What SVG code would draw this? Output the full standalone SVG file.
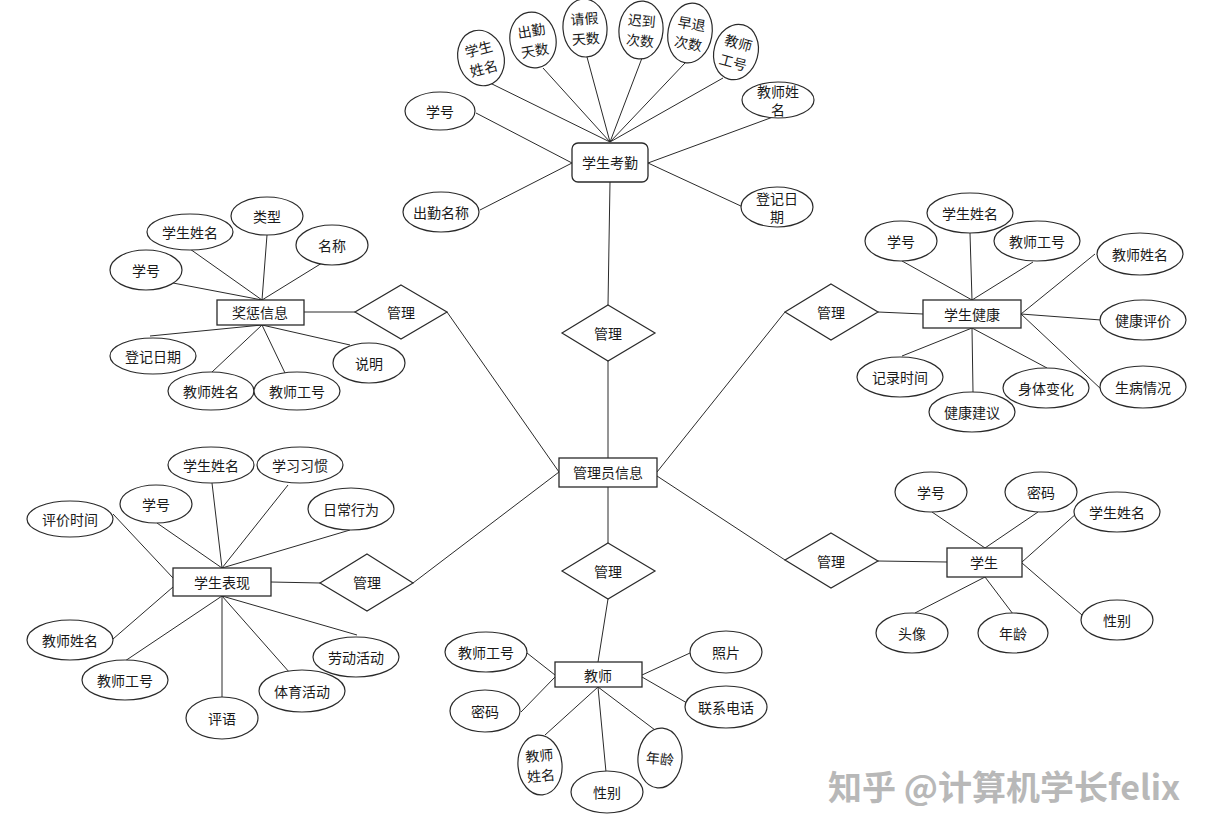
<svg xmlns="http://www.w3.org/2000/svg" width="1224" height="834" viewBox="0 0 1224 834">
<style>
.c line{stroke:#2a2a2a;stroke-width:1}
.e{fill:#fff;stroke:#2a2a2a;stroke-width:1.2}
.r{fill:#fff;stroke:#2a2a2a;stroke-width:1.3}
.d{fill:#fff;stroke:#2a2a2a;stroke-width:1.2}
text{font-family:"Noto Sans CJK SC","Noto Sans",sans-serif;font-size:14px;fill:#1a1a1a;text-anchor:middle;dominant-baseline:central}
.wm{font-size:34px;fill:#b8b8b8;text-anchor:start;dominant-baseline:alphabetic;font-weight:bold}
</style>
<rect width="1224" height="834" fill="#fff"/>
<g class="c" id="connectors">
<line x1="490" y1="83" x2="610" y2="142"/>
<line x1="543" y1="68" x2="610" y2="142"/>
<line x1="587" y1="57" x2="610" y2="142"/>
<line x1="642" y1="58" x2="610" y2="142"/>
<line x1="685" y1="63" x2="610" y2="142"/>
<line x1="723" y1="78" x2="610" y2="142"/>
<line x1="476" y1="113" x2="572" y2="163"/>
<line x1="480" y1="210" x2="572" y2="163"/>
<line x1="773" y1="117" x2="648" y2="163"/>
<line x1="743" y1="207" x2="648" y2="163"/>
<line x1="610" y1="182" x2="608" y2="305"/>
<line x1="608" y1="361" x2="608" y2="458"/>
<line x1="608" y1="487" x2="608" y2="543"/>
<line x1="608" y1="599" x2="598" y2="662"/>
<line x1="173" y1="283" x2="262" y2="300"/>
<line x1="190" y1="249" x2="262" y2="300"/>
<line x1="267" y1="235" x2="262" y2="300"/>
<line x1="322" y1="263" x2="262" y2="300"/>
<line x1="150" y1="336" x2="262" y2="325"/>
<line x1="212" y1="372" x2="262" y2="325"/>
<line x1="285" y1="373" x2="262" y2="325"/>
<line x1="350" y1="345" x2="262" y2="325"/>
<line x1="304" y1="312" x2="355" y2="312"/>
<line x1="447" y1="312" x2="559" y2="472"/>
<line x1="785" y1="312" x2="657" y2="472"/>
<line x1="878" y1="312" x2="923" y2="314"/>
<line x1="902" y1="261" x2="972" y2="300"/>
<line x1="970" y1="233" x2="972" y2="300"/>
<line x1="1033" y1="262" x2="972" y2="300"/>
<line x1="1095" y1="254" x2="1021" y2="314"/>
<line x1="1101" y1="320" x2="1021" y2="314"/>
<line x1="1102" y1="390" x2="1021" y2="314"/>
<line x1="902" y1="356" x2="972" y2="328"/>
<line x1="973" y1="392" x2="972" y2="328"/>
<line x1="1047" y1="368" x2="972" y2="328"/>
<line x1="413" y1="583" x2="559" y2="472"/>
<line x1="271" y1="582" x2="320" y2="583"/>
<line x1="157" y1="523" x2="222" y2="568"/>
<line x1="212" y1="483" x2="222" y2="568"/>
<line x1="288" y1="485" x2="222" y2="568"/>
<line x1="350" y1="530" x2="222" y2="568"/>
<line x1="113" y1="514" x2="173" y2="578"/>
<line x1="113" y1="639" x2="173" y2="587"/>
<line x1="125" y1="661" x2="222" y2="596"/>
<line x1="222" y1="698" x2="222" y2="596"/>
<line x1="290" y1="673" x2="222" y2="596"/>
<line x1="357" y1="635" x2="222" y2="596"/>
<line x1="657" y1="476" x2="785" y2="560"/>
<line x1="878" y1="561" x2="947" y2="562"/>
<line x1="932" y1="512" x2="985" y2="548"/>
<line x1="1038" y1="512" x2="985" y2="548"/>
<line x1="1077" y1="513" x2="1022" y2="562"/>
<line x1="1082" y1="615" x2="1022" y2="563"/>
<line x1="915" y1="613" x2="985" y2="577"/>
<line x1="1013" y1="614" x2="985" y2="577"/>
<line x1="527" y1="653" x2="555" y2="675"/>
<line x1="521" y1="712" x2="555" y2="677"/>
<line x1="545" y1="735" x2="598" y2="687"/>
<line x1="606" y1="772" x2="598" y2="687"/>
<line x1="655" y1="730" x2="598" y2="687"/>
<line x1="690" y1="653" x2="642" y2="675"/>
<line x1="687" y1="703" x2="642" y2="677"/>
</g>

<!-- 学生考勤 -->
<g id="attendance"><rect class="r" x="572" y="143" width="76" height="39" rx="6"/><text x="610" y="162">学生考勤</text></g>
<g id="att-sname" transform="rotate(-15 481 58)"><ellipse class="e" cx="481" cy="58" rx="23" ry="28"/><text x="481" y="48">学生</text><text x="481" y="68">姓名</text></g>
<g id="att-days" transform="rotate(-10 533 40)"><ellipse class="e" cx="533" cy="40" rx="23" ry="28"/><text x="533" y="30">出勤</text><text x="533" y="50">天数</text></g>
<g id="att-leave" transform="rotate(-4 585 28)"><ellipse class="e" cx="585" cy="28" rx="22" ry="29"/><text x="585" y="18">请假</text><text x="585" y="38">天数</text></g>
<g id="att-late" transform="rotate(5 641 30)"><ellipse class="e" cx="641" cy="30" rx="22" ry="29"/><text x="641" y="20">迟到</text><text x="641" y="40">次数</text></g>
<g id="att-early" transform="rotate(10 690 33)"><ellipse class="e" cx="690" cy="33" rx="22" ry="30"/><text x="690" y="23">早退</text><text x="690" y="43">次数</text></g>
<g id="att-tid" transform="rotate(15 736 52)"><ellipse class="e" cx="736" cy="52" rx="22" ry="28"/><text x="736" y="42">教师</text><text x="736" y="62">工号</text></g>
<g id="att-tname"><ellipse class="e" cx="778" cy="100" rx="36" ry="18"/><text x="778" y="91">教师姓</text><text x="778" y="109">名</text></g>
<g id="att-sid"><ellipse class="e" cx="440" cy="111" rx="35" ry="19"/><text x="440" y="111">学号</text></g>
<g id="att-name"><ellipse class="e" cx="441" cy="212" rx="38" ry="20"/><text x="441" y="212">出勤名称</text></g>
<g id="att-date"><ellipse class="e" cx="777" cy="207" rx="36" ry="20"/><text x="777" y="198">登记日</text><text x="777" y="216">期</text></g>
<g id="rel-top"><polygon class="d" points="608,305 655,333 608,361 562,333"/><text x="608" y="333">管理</text></g>

<!-- 管理员信息 -->
<g id="admin"><rect class="r" x="559" y="458" width="98" height="29"/><text x="608" y="472">管理员信息</text></g>

<!-- 奖惩信息 -->
<g id="reward"><rect class="r" x="217" y="300" width="87" height="25"/><text x="260" y="312">奖惩信息</text></g>
<g id="rw-sid"><ellipse class="e" cx="146" cy="270" rx="36" ry="20"/><text x="146" y="270">学号</text></g>
<g id="rw-sname"><ellipse class="e" cx="190" cy="232" rx="43" ry="18"/><text x="190" y="232">学生姓名</text></g>
<g id="rw-type"><ellipse class="e" cx="267" cy="216" rx="36" ry="19"/><text x="267" y="216">类型</text></g>
<g id="rw-name"><ellipse class="e" cx="332" cy="245" rx="36" ry="20"/><text x="332" y="245">名称</text></g>
<g id="rw-date"><ellipse class="e" cx="153" cy="356" rx="43" ry="18"/><text x="153" y="356">登记日期</text></g>
<g id="rw-tname"><ellipse class="e" cx="211" cy="391" rx="43" ry="19"/><text x="211" y="391">教师姓名</text></g>
<g id="rw-tid"><ellipse class="e" cx="297" cy="391" rx="43" ry="19"/><text x="297" y="391">教师工号</text></g>
<g id="rw-desc"><ellipse class="e" cx="369" cy="363" rx="36" ry="20"/><text x="369" y="363">说明</text></g>
<g id="rel-reward"><polygon class="d" points="401,285 447,312 401,339 355,312"/><text x="401" y="312">管理</text></g>

<!-- 学生健康 -->
<g id="health"><rect class="r" x="923" y="300" width="98" height="28"/><text x="972" y="314">学生健康</text></g>
<g id="hl-sid"><ellipse class="e" cx="901" cy="241" rx="36" ry="20"/><text x="901" y="241">学号</text></g>
<g id="hl-sname"><ellipse class="e" cx="970" cy="213" rx="43" ry="20"/><text x="970" y="213">学生姓名</text></g>
<g id="hl-tid"><ellipse class="e" cx="1037" cy="241" rx="43" ry="20"/><text x="1037" y="241">教师工号</text></g>
<g id="hl-tname"><ellipse class="e" cx="1140" cy="254" rx="43" ry="21"/><text x="1140" y="254">教师姓名</text></g>
<g id="hl-eval"><ellipse class="e" cx="1143" cy="320" rx="43" ry="20"/><text x="1143" y="320">健康评价</text></g>
<g id="hl-sick"><ellipse class="e" cx="1143" cy="387" rx="43" ry="21"/><text x="1143" y="387">生病情况</text></g>
<g id="hl-time"><ellipse class="e" cx="900" cy="377" rx="43" ry="20"/><text x="900" y="377">记录时间</text></g>
<g id="hl-advice"><ellipse class="e" cx="972" cy="412" rx="43" ry="20"/><text x="972" y="412">健康建议</text></g>
<g id="hl-change"><ellipse class="e" cx="1046" cy="388" rx="43" ry="20"/><text x="1046" y="388">身体变化</text></g>
<g id="rel-health"><polygon class="d" points="831,284 878,312 831,340 785,312"/><text x="831" y="312">管理</text></g>

<!-- 学生表现 -->
<g id="perf"><rect class="r" x="173" y="568" width="98" height="28"/><text x="222" y="582">学生表现</text></g>
<g id="pf-sname"><ellipse class="e" cx="211" cy="465" rx="43" ry="18"/><text x="211" y="465">学生姓名</text></g>
<g id="pf-habit"><ellipse class="e" cx="300" cy="465" rx="43" ry="18"/><text x="300" y="465">学习习惯</text></g>
<g id="pf-sid"><ellipse class="e" cx="156" cy="504" rx="36" ry="19"/><text x="156" y="504">学号</text></g>
<g id="pf-daily"><ellipse class="e" cx="351" cy="509" rx="43" ry="21"/><text x="351" y="509">日常行为</text></g>
<g id="pf-time"><ellipse class="e" cx="70" cy="519" rx="43" ry="18"/><text x="70" y="519">评价时间</text></g>
<g id="pf-tname"><ellipse class="e" cx="70" cy="640" rx="43" ry="20"/><text x="70" y="640">教师姓名</text></g>
<g id="pf-tid"><ellipse class="e" cx="125" cy="680" rx="43" ry="20"/><text x="125" y="680">教师工号</text></g>
<g id="pf-comment"><ellipse class="e" cx="222" cy="718" rx="36" ry="21"/><text x="222" y="718">评语</text></g>
<g id="pf-sport"><ellipse class="e" cx="302" cy="691" rx="43" ry="21"/><text x="302" y="691">体育活动</text></g>
<g id="pf-labor"><ellipse class="e" cx="356" cy="657" rx="43" ry="20"/><text x="356" y="657">劳动活动</text></g>
<g id="rel-perf"><polygon class="d" points="367,554 413,583 367,611 320,583"/><text x="367" y="582">管理</text></g>

<!-- 学生 -->
<g id="student"><rect class="r" x="947" y="548" width="75" height="29"/><text x="984" y="562">学生</text></g>
<g id="st-sid"><ellipse class="e" cx="931" cy="492" rx="36" ry="20"/><text x="931" y="492">学号</text></g>
<g id="st-pwd"><ellipse class="e" cx="1041" cy="492" rx="36" ry="20"/><text x="1041" y="492">密码</text></g>
<g id="st-name"><ellipse class="e" cx="1117" cy="512" rx="43" ry="20"/><text x="1117" y="512">学生姓名</text></g>
<g id="st-avatar"><ellipse class="e" cx="912" cy="633" rx="36" ry="20"/><text x="912" y="633">头像</text></g>
<g id="st-age"><ellipse class="e" cx="1013" cy="633" rx="35" ry="20"/><text x="1013" y="633">年龄</text></g>
<g id="st-sex"><ellipse class="e" cx="1117" cy="620" rx="36" ry="20"/><text x="1117" y="620">性别</text></g>
<g id="rel-student"><polygon class="d" points="831,533 878,561 831,588 785,560"/><text x="831" y="561">管理</text></g>

<!-- 教师 -->
<g id="teacher"><rect class="r" x="555" y="662" width="87" height="25"/><text x="598" y="675">教师</text></g>
<g id="tc-id"><ellipse class="e" cx="486" cy="652" rx="41" ry="20"/><text x="486" y="652">教师工号</text></g>
<g id="tc-pwd"><ellipse class="e" cx="485" cy="711" rx="35" ry="21"/><text x="485" y="711">密码</text></g>
<g id="tc-name" transform="rotate(-5 540 765)"><ellipse class="e" cx="540" cy="765" rx="22" ry="30"/><text x="540" y="755">教师</text><text x="540" y="775">姓名</text></g>
<g id="tc-sex"><ellipse class="e" cx="607" cy="792" rx="36" ry="21"/><text x="607" y="792">性别</text></g>
<g id="tc-age" transform="rotate(5 660 758)"><ellipse class="e" cx="660" cy="758" rx="22" ry="30"/><text x="660" y="758">年龄</text></g>
<g id="tc-photo"><ellipse class="e" cx="726" cy="652" rx="36" ry="21"/><text x="726" y="652">照片</text></g>
<g id="tc-phone"><ellipse class="e" cx="726" cy="707" rx="41" ry="21"/><text x="726" y="707">联系电话</text></g>
<g id="rel-teacher"><polygon class="d" points="608,543 655,571 608,599 562,571"/><text x="608" y="571">管理</text></g>

<text class="wm" x="828" y="800">知乎 @计算机学长felix</text>
</svg>
